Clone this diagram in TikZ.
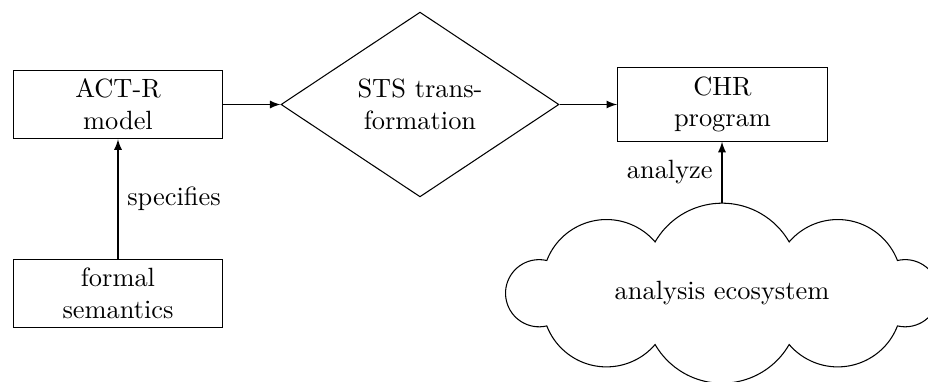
\documentclass[tikz,border=0pt]{standalone}
\usetikzlibrary{shapes.geometric}
\begin{document}
\begin{tikzpicture}[x=0.37879pt,y=-0.37879pt,
  box/.style={draw,rectangle,text width=72.8pt,align=center},
  decision/.style={draw,diamond,inner sep=0pt,minimum width=105.3pt,minimum height=70pt,align=center},
  cloudline/.style={draw,line join=miter},
  conn/.style={-latex}]
\useasboundingbox (0,0) rectangle (928,381);
\node[box] (act) at (118,104.5) {ACT-R\\model};
\node[box] (sem) at (118,293.5) {formal\\semantics};
\node[decision] (sts) at (420,104.5) {STS trans-\\formation};
\node[box] (chr) at (722.5,104.5) {CHR\\program};
% cloud outline
\path[cloudline] (546.8,260.5)
  arc[start angle=201.1, end angle=319.4, radius=64]
  arc[start angle=210, end angle=330, radius=77.4]
  arc[start angle=220.6, end angle=338.9, radius=64]
  arc[start angle=-103.2, end angle=103.2, radius=33.6]
  arc[start angle=21.1, end angle=139.4, radius=64]
  arc[start angle=30, end angle=150, radius=77.4]
  arc[start angle=40.6, end angle=158.9, radius=64]
  arc[start angle=76.8, end angle=283.2, radius=33.6]
  -- cycle;
\node (cloud) at (722,293) {analysis ecosystem};
\coordinate (cloudtop) at (722,203);
\draw[conn] (act) -- (sts);
\draw[conn] (sts) -- (chr);
\draw[conn] (sem) -- node[right] {specifies} (act);
\draw[conn] (cloudtop) -- node[left] {analyze} (chr.south -| cloudtop);
\end{tikzpicture}
\end{document}
